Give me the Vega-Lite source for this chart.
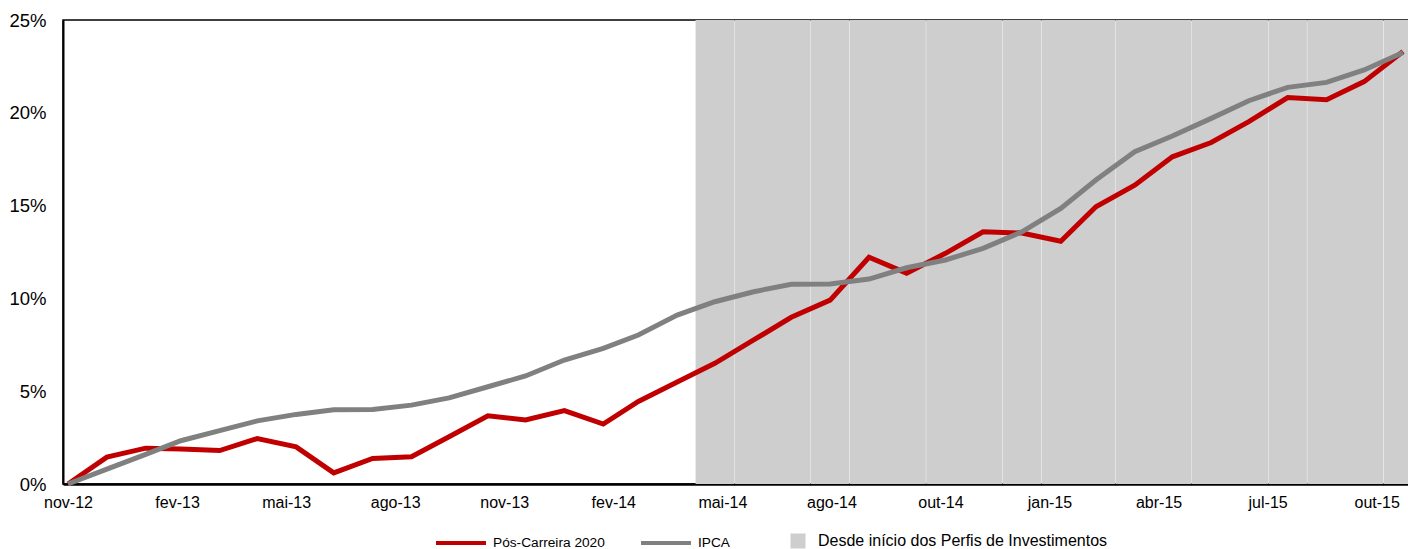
{
  "$schema": "https://vega.github.io/schema/vega-lite/v6.json",
  "width": 1345,
  "height": 464,
  "autosize": {"type": "none"},
  "padding": {"left": 63, "top": 20, "right": 0, "bottom": 65},
  "background": "white",
  "config": {
    "font": "Liberation Sans",
    "view": {"stroke": "black", "strokeWidth": 1.5},
    "axis": {"domainColor": "black", "domainWidth": 2, "labelColor": "black", "labelFont": "Liberation Sans", "labelFontSize": 16, "grid": false, "ticks": false, "title": null},
    "legend": {"labelColor": "black", "labelFont": "Liberation Sans", "labelLimit": 0}
  },
  "datasets": {
    "series": [
      {"data": "2012-11-30", "serie": "Pós-Carreira 2020", "valor": 0},
      {"data": "2012-12-31", "serie": "Pós-Carreira 2020", "valor": 1.45},
      {"data": "2013-01-31", "serie": "Pós-Carreira 2020", "valor": 1.93},
      {"data": "2013-02-28", "serie": "Pós-Carreira 2020", "valor": 1.88},
      {"data": "2013-03-31", "serie": "Pós-Carreira 2020", "valor": 1.8},
      {"data": "2013-04-30", "serie": "Pós-Carreira 2020", "valor": 2.45},
      {"data": "2013-05-31", "serie": "Pós-Carreira 2020", "valor": 2.0},
      {"data": "2013-06-30", "serie": "Pós-Carreira 2020", "valor": 0.6},
      {"data": "2013-07-31", "serie": "Pós-Carreira 2020", "valor": 1.38},
      {"data": "2013-08-31", "serie": "Pós-Carreira 2020", "valor": 1.47},
      {"data": "2013-09-30", "serie": "Pós-Carreira 2020", "valor": 2.55},
      {"data": "2013-10-31", "serie": "Pós-Carreira 2020", "valor": 3.68},
      {"data": "2013-11-30", "serie": "Pós-Carreira 2020", "valor": 3.45},
      {"data": "2013-12-31", "serie": "Pós-Carreira 2020", "valor": 3.95},
      {"data": "2014-01-31", "serie": "Pós-Carreira 2020", "valor": 3.23},
      {"data": "2014-02-28", "serie": "Pós-Carreira 2020", "valor": 4.45},
      {"data": "2014-03-31", "serie": "Pós-Carreira 2020", "valor": 5.5},
      {"data": "2014-04-30", "serie": "Pós-Carreira 2020", "valor": 6.5},
      {"data": "2014-05-31", "serie": "Pós-Carreira 2020", "valor": 7.76},
      {"data": "2014-06-30", "serie": "Pós-Carreira 2020", "valor": 8.98},
      {"data": "2014-07-31", "serie": "Pós-Carreira 2020", "valor": 9.91},
      {"data": "2014-08-31", "serie": "Pós-Carreira 2020", "valor": 12.22},
      {"data": "2014-09-30", "serie": "Pós-Carreira 2020", "valor": 11.36},
      {"data": "2014-10-31", "serie": "Pós-Carreira 2020", "valor": 12.43},
      {"data": "2014-11-30", "serie": "Pós-Carreira 2020", "valor": 13.59},
      {"data": "2014-12-31", "serie": "Pós-Carreira 2020", "valor": 13.52},
      {"data": "2015-01-31", "serie": "Pós-Carreira 2020", "valor": 13.08},
      {"data": "2015-02-28", "serie": "Pós-Carreira 2020", "valor": 14.94},
      {"data": "2015-03-31", "serie": "Pós-Carreira 2020", "valor": 16.1},
      {"data": "2015-04-30", "serie": "Pós-Carreira 2020", "valor": 17.63},
      {"data": "2015-05-31", "serie": "Pós-Carreira 2020", "valor": 18.4},
      {"data": "2015-06-30", "serie": "Pós-Carreira 2020", "valor": 19.52},
      {"data": "2015-07-31", "serie": "Pós-Carreira 2020", "valor": 20.82},
      {"data": "2015-08-31", "serie": "Pós-Carreira 2020", "valor": 20.7},
      {"data": "2015-09-30", "serie": "Pós-Carreira 2020", "valor": 21.68},
      {"data": "2015-10-31", "serie": "Pós-Carreira 2020", "valor": 23.3},
      {"data": "2012-11-30", "serie": "IPCA", "valor": 0},
      {"data": "2012-12-31", "serie": "IPCA", "valor": 0.8},
      {"data": "2013-01-31", "serie": "IPCA", "valor": 1.6},
      {"data": "2013-02-28", "serie": "IPCA", "valor": 2.33},
      {"data": "2013-03-31", "serie": "IPCA", "valor": 2.88},
      {"data": "2013-04-30", "serie": "IPCA", "valor": 3.4},
      {"data": "2013-05-31", "serie": "IPCA", "valor": 3.75},
      {"data": "2013-06-30", "serie": "IPCA", "valor": 4.0},
      {"data": "2013-07-31", "serie": "IPCA", "valor": 4.02},
      {"data": "2013-08-31", "serie": "IPCA", "valor": 4.25},
      {"data": "2013-09-30", "serie": "IPCA", "valor": 4.64},
      {"data": "2013-10-31", "serie": "IPCA", "valor": 5.24},
      {"data": "2013-11-30", "serie": "IPCA", "valor": 5.82},
      {"data": "2013-12-31", "serie": "IPCA", "valor": 6.68},
      {"data": "2014-01-31", "serie": "IPCA", "valor": 7.31},
      {"data": "2014-02-28", "serie": "IPCA", "valor": 8.03},
      {"data": "2014-03-31", "serie": "IPCA", "valor": 9.1},
      {"data": "2014-04-30", "serie": "IPCA", "valor": 9.82},
      {"data": "2014-05-31", "serie": "IPCA", "valor": 10.36},
      {"data": "2014-06-30", "serie": "IPCA", "valor": 10.76},
      {"data": "2014-07-31", "serie": "IPCA", "valor": 10.78},
      {"data": "2014-08-31", "serie": "IPCA", "valor": 11.04},
      {"data": "2014-09-30", "serie": "IPCA", "valor": 11.65},
      {"data": "2014-10-31", "serie": "IPCA", "valor": 12.07},
      {"data": "2014-11-30", "serie": "IPCA", "valor": 12.7},
      {"data": "2014-12-31", "serie": "IPCA", "valor": 13.59},
      {"data": "2015-01-31", "serie": "IPCA", "valor": 14.85},
      {"data": "2015-02-28", "serie": "IPCA", "valor": 16.38},
      {"data": "2015-03-31", "serie": "IPCA", "valor": 17.9},
      {"data": "2015-04-30", "serie": "IPCA", "valor": 18.75},
      {"data": "2015-05-31", "serie": "IPCA", "valor": 19.7},
      {"data": "2015-06-30", "serie": "IPCA", "valor": 20.65},
      {"data": "2015-07-31", "serie": "IPCA", "valor": 21.37},
      {"data": "2015-08-31", "serie": "IPCA", "valor": 21.64},
      {"data": "2015-09-30", "serie": "IPCA", "valor": 22.31},
      {"data": "2015-10-31", "serie": "IPCA", "valor": 23.25}
    ],
    "perfis": [
      {"data": "2014-04-30", "faixa": "Desde início dos Perfis de Investimentos", "topo": 25},
      {"data": "2014-05-31", "faixa": "Desde início dos Perfis de Investimentos", "topo": 25},
      {"data": "2014-06-30", "faixa": "Desde início dos Perfis de Investimentos", "topo": 25},
      {"data": "2014-07-31", "faixa": "Desde início dos Perfis de Investimentos", "topo": 25},
      {"data": "2014-08-31", "faixa": "Desde início dos Perfis de Investimentos", "topo": 25},
      {"data": "2014-09-30", "faixa": "Desde início dos Perfis de Investimentos", "topo": 25},
      {"data": "2014-10-31", "faixa": "Desde início dos Perfis de Investimentos", "topo": 25},
      {"data": "2014-11-30", "faixa": "Desde início dos Perfis de Investimentos", "topo": 25},
      {"data": "2014-12-31", "faixa": "Desde início dos Perfis de Investimentos", "topo": 25},
      {"data": "2015-01-31", "faixa": "Desde início dos Perfis de Investimentos", "topo": 25},
      {"data": "2015-02-28", "faixa": "Desde início dos Perfis de Investimentos", "topo": 25},
      {"data": "2015-03-31", "faixa": "Desde início dos Perfis de Investimentos", "topo": 25},
      {"data": "2015-04-30", "faixa": "Desde início dos Perfis de Investimentos", "topo": 25},
      {"data": "2015-05-31", "faixa": "Desde início dos Perfis de Investimentos", "topo": 25},
      {"data": "2015-06-30", "faixa": "Desde início dos Perfis de Investimentos", "topo": 25},
      {"data": "2015-07-31", "faixa": "Desde início dos Perfis de Investimentos", "topo": 25},
      {"data": "2015-08-31", "faixa": "Desde início dos Perfis de Investimentos", "topo": 25},
      {"data": "2015-09-30", "faixa": "Desde início dos Perfis de Investimentos", "topo": 25},
      {"data": "2015-10-31", "faixa": "Desde início dos Perfis de Investimentos", "topo": 25}
    ]
  },
  "layer": [
    {
      "data": {"name": "perfis"},
      "mark": {"type": "bar", "size": 38.5, "clip": true},
      "encoding": {
        "x": {
          "field": "data", "type": "temporal",
          "scale": {"type": "utc", "nice": false, "domain": [{"year": 2012, "month": 11, "date": 30, "utc": true}, {"year": 2015, "month": 10, "date": 31, "utc": true}]},
          "axis": {
            "values": [
              {"year": 2012, "month": 11, "date": 30, "utc": true},
              {"year": 2013, "month": 2, "date": 25, "utc": true},
              {"year": 2013, "month": 5, "date": 23, "utc": true},
              {"year": 2013, "month": 8, "date": 18, "utc": true},
              {"year": 2013, "month": 11, "date": 13, "utc": true},
              {"year": 2014, "month": 2, "date": 8, "utc": true},
              {"year": 2014, "month": 5, "date": 6, "utc": true},
              {"year": 2014, "month": 8, "date": 1, "utc": true},
              {"year": 2014, "month": 10, "date": 27, "utc": true},
              {"year": 2015, "month": 1, "date": 22, "utc": true},
              {"year": 2015, "month": 4, "date": 19, "utc": true},
              {"year": 2015, "month": 7, "date": 15, "utc": true},
              {"year": 2015, "month": 10, "date": 10, "utc": true}
            ],
            "labelExpr": "['jan','fev','mar','abr','mai','jun','jul','ago','set','out','nov','dez'][utcmonth(datum.value)] + '-' + utcFormat(datum.value, '%y')",
            "labelFlush": false,
            "labelOverlap": false,
            "labelPadding": 10,
            "domainWidth": 2.5
          }
        },
        "y": {
          "field": "topo", "type": "quantitative",
          "scale": {"domain": [0, 25], "nice": false},
          "axis": {"values": [0, 5, 10, 15, 20, 25], "labelExpr": "datum.value + '%'", "labelPadding": 17, "labelFontSize": 18.5}
        },
        "fill": {
          "field": "faixa", "type": "nominal",
          "scale": {"range": ["#cecece"]},
          "legend": {"title": null, "orient": "none", "legendX": 727, "legendY": 513, "symbolType": "square", "symbolSize": 225, "symbolStrokeWidth": 0, "labelFontSize": 16, "labelOffset": 12, "padding": 0}
        }
      }
    },
    {
      "data": {"name": "series"},
      "mark": {"type": "line", "strokeWidth": 5},
      "encoding": {
        "x": {"field": "data", "type": "temporal"},
        "y": {"field": "valor", "type": "quantitative"},
        "stroke": {
          "field": "serie", "type": "nominal",
          "scale": {"domain": ["Pós-Carreira 2020", "IPCA"], "range": ["#c00000", "#808080"]},
          "legend": {"title": null, "orient": "none", "legendX": 371, "legendY": 496, "direction": "horizontal", "symbolType": "stroke", "symbolSize": 2500, "symbolStrokeWidth": 4, "labelFontSize": 13.7, "labelOffset": 5, "columnPadding": 28, "padding": 0}
        }
      }
    }
  ]
}
